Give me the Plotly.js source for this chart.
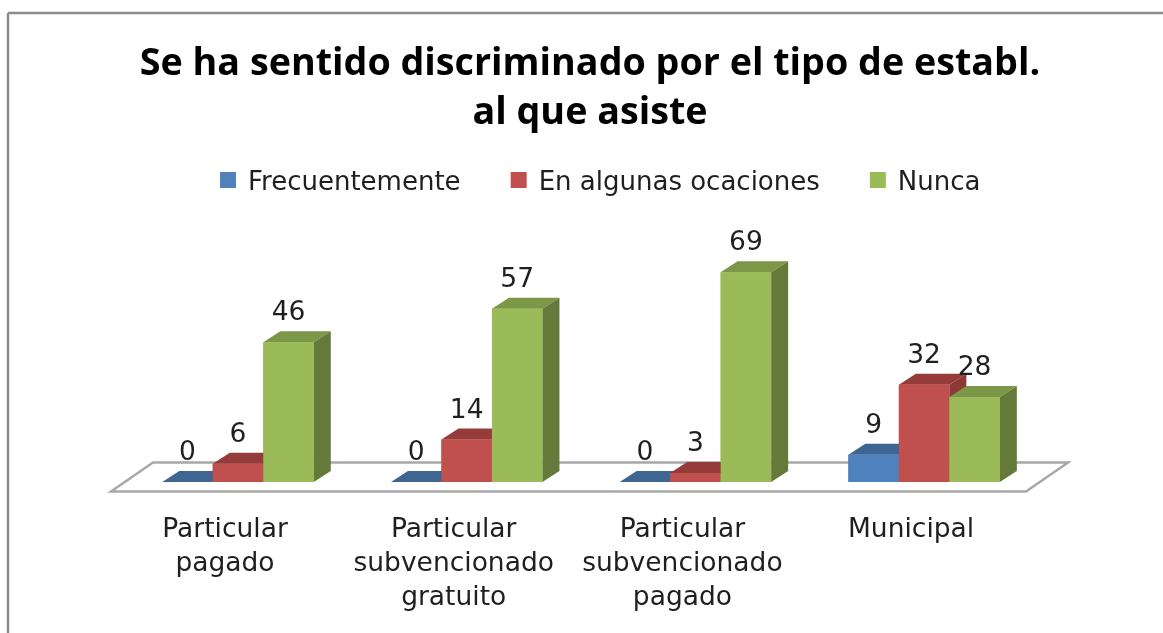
<!DOCTYPE html>
<html><head><meta charset="utf-8">
<script src="https://cdn.plot.ly/plotly-3.0.1.min.js"></script>
<style>html,body{margin:0;padding:0;background:#fff;overflow:hidden}#c{width:1163px;height:633px;filter:blur(0.5px)}</style>
</head><body><div id="c"></div>
<script>
const categories = ["Particular<br>pagado","Particular<br>subvencionado<br>gratuito","Particular<br>subvencionado<br>pagado","Municipal"];
const frecuentemente = [0,0,0,9];
const enAlgunas = [6,14,3,32];
const nunca = [46,57,69,28];
const seriesNames = ["Frecuentemente","En algunas ocaciones","Nunca"];
const legendPad = ["\u00a0\u00a0\u00a0\u00a0","\u00a0\u00a0\u00a0\u00a0",""];
const frontColors = ["#4f81bd","#c0504d","#9bbb59"];
const topColors = ["#3f6592","#953b39","#7c9747"];
const sideColors = ["#385d8a","#8c3836","#657a3a"];

const W=1163,H=633;
const pl=100,pr=1100,pt=200,pb=509;
const pxX=228.7, pxY=3.04, originX=225;
const x0=(pl-originX)/pxX, x1=(pr-originX)/pxX;
const yLo=-(pb-482)/pxY, yHi=(482-pt)/pxY;
const barW=50.5/pxX, depthX=17/pxX, depthY=11/pxY, groupShift=13/pxX;
const seriesVals=[frecuentemente,enAlgunas,nunca];
const xIdx=categories.map((_,i)=>i);
const pw=pr-pl, ph=pb-pt;

const traces=[];
seriesVals.forEach((vals,s)=>{
  traces.push({type:'bar',x:xIdx.map(i=>i+groupShift+(s-1)*barW),y:vals,width:barW,
    marker:{color:frontColors[s],line:{width:0}},name:seriesNames[s],showlegend:false,hoverinfo:'skip'});
});
seriesVals.forEach((vals,s)=>{
  const fx=[],fy=[],tx=[],ty=[],sx=[],sy=[];
  vals.forEach((v,i)=>{
    const l=i+groupShift+(s-1)*barW-barW/2, r=l+barW;
    fx.push(l,r,r,l,l,null); fy.push(0,0,v,v,0,null);
    tx.push(l,r,r+depthX,l+depthX,l,null); ty.push(v,v,v+depthY,v+depthY,v,null);
    if(v>0){sx.push(r,r+depthX,r+depthX,r,r,null); sy.push(0,depthY,v+depthY,v,0,null);}
  });
  const poly=(x,y,c)=>({type:'scatter',mode:'lines',x,y,fill:'toself',fillcolor:c,line:{width:0,color:c},showlegend:false,hoverinfo:'skip'});
  traces.push(poly(tx,ty,topColors[s]));
  traces.push(poly(sx,sy,sideColors[s]));
  traces.push(poly(fx,fy,frontColors[s]));
});
seriesVals.forEach((vals,s)=>{
  traces.push({type:'scatter',mode:'text',x:xIdx.map(i=>i+groupShift+(s-1)*barW),y:vals.map(v=>v+28.5/pxY),
    text:vals.map(String),textposition:'middle center',textfont:{family:'DejaVu Sans',size:26.5,color:'#1f1f1f'},
    showlegend:false,hoverinfo:'skip'});
});
seriesNames.forEach((n,s)=>{
  traces.push({type:'scatter',mode:'markers',x:[null],y:[null],name:n+legendPad[s],
    marker:{symbol:'square',size:16,color:frontColors[s]},hoverinfo:'skip'});
});

const floorL=(111-originX)/pxX, floorR=(1026-originX)/pxX, floorD=42/pxX, floorF=-9.5/pxY, floorB=19.5/pxY;
const layout={
  width:W,height:H,margin:{l:pl,r:W-pr,t:pt,b:H-pb,autoexpand:false},
  paper_bgcolor:'#fff',plot_bgcolor:'rgba(0,0,0,0)',barmode:'overlay',showlegend:true,
  legend:{orientation:'h',x:(208-pl)/pw,xanchor:'left',y:(pb-180)/ph,yanchor:'middle',
    font:{family:'DejaVu Sans',size:26,color:'#1f1f1f'},bgcolor:'rgba(0,0,0,0)'},
  title:{text:"Se ha sentido discriminado por el tipo de establ.<br>al que asiste",
    font:{family:'Open Sans',size:37.7,color:'#000',weight:700},x:590/W,xanchor:'center',y:1-75/H,yanchor:'top',automargin:false},
  xaxis:{range:[x0,x1],tickmode:'array',tickvals:xIdx,ticktext:categories,showgrid:false,zeroline:false,showline:false,ticks:'',
    tickfont:{family:'DejaVu Sans',size:26.5,color:'#1f1f1f'},tickangle:0,fixedrange:true},
  yaxis:{range:[yLo,yHi],visible:false,fixedrange:true},
  shapes:[
    {type:'path',layer:'below',xref:'x',yref:'y',
     path:`M${floorL},${floorF}L${floorL+floorD},${floorB}L${floorR+floorD},${floorB}L${floorR},${floorF}Z`,
     fillcolor:'#fff',line:{color:'#a8a8a8',width:2.5}},
    {type:'line',xref:'paper',yref:'paper',x0:(8-pl)/pw,x1:(8-pl)/pw,y0:(pb-H)/ph,y1:(pb-13)/ph,line:{color:'#8c8c8c',width:2.5}},
    {type:'line',xref:'paper',yref:'paper',x0:(8-pl)/pw,x1:(W-pl)/pw,y0:(pb-13)/ph,y1:(pb-13)/ph,line:{color:'#8c8c8c',width:2.5}}
  ]
};
Plotly.newPlot('c',traces,layout,{staticPlot:true,displayModeBar:false});
</script></body></html>
